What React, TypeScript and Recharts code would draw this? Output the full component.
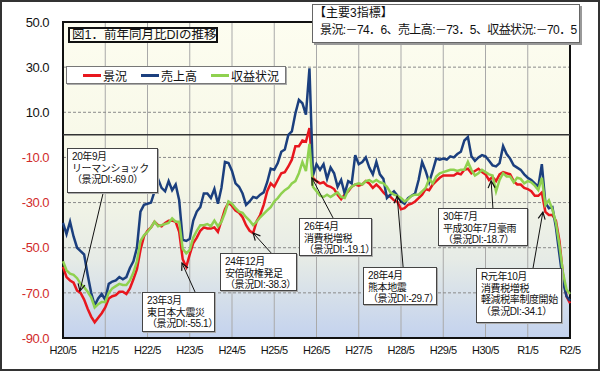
import React from 'react';
import { LineChart, Line, XAxis, YAxis, CartesianGrid, ReferenceLine, ReferenceArea } from 'recharts';

// ---- data ----
const xTickLabels = ['H20/5', 'H21/5', 'H22/5', 'H23/5', 'H24/5', 'H25/5', 'H26/5', 'H27/5', 'H28/5', 'H29/5', 'H30/5', 'R1/5', 'R2/5'];
const xTicks = xTickLabels.map((_, i) => i * 12);
const yTicks = [-90, -70, -50, -30, -10, 10, 30, 50];

// 景況 (monthly, H20/5 .. R2/5)
const keikyo = [
  -58.5, -63, -64.5, -65.5, -69.0, -70, -73, -77, -80.5, -83,
  -81, -79, -76.5, -72.5, -71.5, -71, -69.5, -69.5, -70.5, -68,
  -64, -59.5, -51, -45, -42.5, -41, -38.5, -40, -40.5, -39,
  -38, -38, -38.5, -43, -55.1, -58.5, -53, -48, -45.5, -42.5,
  -41, -41.5, -41.5, -41, -43, -38, -33, -30, -31.5, -33.5,
  -34.5, -36.5, -40, -42.5, -43.5, -38.3, -35.5, -31, -25, -21.5,
  -23, -20, -17, -16.5, -14, -11, -5, -5, -2.5, -3,
  3, -19.1, -20.5, -21.5, -21, -22.5, -23, -24, -26.5, -28.5,
  -26.5, -25, -23, -22, -22.5, -22, -20.5, -21.5, -23.5, -22,
  -23.5, -25.5, -27, -27.5, -29, -29.7, -33, -32.5, -31, -30.5,
  -29.5, -28, -26.5, -24, -24.5, -22, -20.5, -19, -18, -18,
  -18, -18, -17, -17.5, -15.5, -15, -17, -16, -15, -16.5,
  -17.5, -20, -18.7, -20.5, -17.5, -16.5, -17, -17.5, -20.5, -22,
  -22, -23.5, -24, -25, -27, -27, -25.5, -34.1, -35.5, -35.5,
  -38, -47, -62, -71.5, -74.6,
];

// 売上高
const uriage = [
  -39, -44, -38.5, -45, -50, -51.5, -53, -62, -70, -75.5,
  -72.5, -70.5, -73, -66, -65, -64.5, -63, -64, -63, -59,
  -56, -50, -34, -31, -30.5, -30, -25, -19.5, -23.5, -25,
  -20.5, -24.5, -22, -29, -46.5, -47, -46, -38, -34, -32,
  -26, -26, -28, -24, -30.5, -23.5, -12, -12.5, -16, -21.5,
  -23, -26, -31, -29.5, -27.5, -28, -26.5, -25.5, -21, -15,
  -15.5, -12.5, -7.5, -6.5, 0, 1.5, 9.5, 15.5, 14, 9,
  29.5, -18, -13, -15.5, -13, -19.5, -14.5, -17, -23, -20,
  -26, -20.5, -21.5, -9, -13, -12, -10, -14.5, -17.5, -12,
  -17.5, -19.5, -28, -26.5, -25, -27, -29.5, -30.5, -28, -27,
  -26, -20, -12, -16, -21, -16, -10.5, -11, -10.5, -11,
  -9.5, -10, -8.5, -7.5, -2.5, -1, -9.5, -11.5, -10, -9,
  -9.5, -11.5, -13.5, -14, -12.5, -5, -8.5, -10.5, -13.5, -14.5,
  -15.5, -17.5, -19, -20, -21.5, -23, -13, -30, -32.5, -32,
  -41, -53, -65, -71.5, -73.5,
];

// 収益状況
const shueki = [
  -56, -60, -61.5, -62, -63.5, -66, -67.5, -69.5, -72, -76.5,
  -75, -74, -74, -70, -68, -67, -66, -66.5, -66.5, -64.5,
  -61, -56, -47, -44.5, -43, -41, -38.5, -40.5, -40, -39.5,
  -39, -37, -38.5, -38.5, -50.5, -52.5, -51, -45.5, -42.5, -40,
  -40, -39.5, -40.5, -38, -40.5, -38.5, -34.5, -29.5, -30.5, -32.5,
  -34, -34.5, -36.5, -38, -40, -38.5, -36.5, -35, -33.5, -32,
  -29.5, -28, -26, -24.5, -23.5, -21.5, -20.5, -17, -12, -16,
  -4, -23, -25, -27, -27.5, -26.5, -27.5, -26.5, -25.5, -27.5,
  -28, -24.5, -23, -22, -21.5, -22, -20.5, -20, -21, -20,
  -21, -21.5, -23, -25.5, -26.5, -27, -28, -29.5, -28.5, -27,
  -26.5, -26.5, -25, -23.5, -19.5, -21.5, -18.5, -17, -16.5, -16,
  -15.5, -15.5, -16, -15.5, -15.5, -12, -15.5, -18, -17, -15.5,
  -16.5, -17.5, -18, -25, -20, -17, -18.5, -18.5, -21, -19,
  -19.5, -21.5, -20.5, -21, -22.5, -24.5, -19, -31, -29, -33,
  -39, -49, -61, -68.5, -70.5,
];

const seriesKeys = ['keikyo', 'uriage', 'shueki'];
const seriesNames = ['景況', '売上高', '収益状況'];
const seriesColors = ['#e8171e', '#1b3f7e', '#8fd14f'];

const titleText = '図1．前年同月比DIの推移';
const summaryTitle = '【主要3指標】';
const summaryText = '景況:－74．6、売上高:－73．5、収益状況:－70．5';

// callouts: text lines, arrow tail & tip in data units (month index, DI)
const calloutLines = [
  ['20年9月', 'リーマンショック', '（景況DI:-69.0）'],
  ['23年3月', '東日本大震災', '（景況DI:-55.1）'],
  ['24年12月', '安倍政権発足', '（景況DI:-38.3）'],
  ['26年4月', '消費税増税', '（景況DI:-19.1）'],
  ['28年4月', '熊本地震', '（景況DI:-29.7）'],
  ['30年7月', '平成30年7月豪雨', '（景況DI:-18.7）'],
  ['R元年10月', '消費税増税', '軽減税率制度開始', '（景況DI:-34.1）'],
];
const calloutTails = [[11.4, -25.8], [37.5, -69.6], [59.1, -52.3], [76.7, -36.8], [96.6, -58.6], [122.1, -32.4], [133.5, -59.0]];
const calloutTips = [[4.8, -69.2], [33.8, -56.8], [54.0, -43.5], [70.7, -19.1], [94.9, -27.1], [121.6, -20.4], [136.3, -34.2]];

// layout of callout boxes (pixels)
const calloutBoxes = [
  { left: 67, top: 148, width: 91, height: 45 },
  { left: 142, top: 292, width: 73, height: 40 },
  { left: 220, top: 253, width: 77, height: 38 },
  { left: 299, top: 218, width: 73, height: 38 },
  { left: 363, top: 267, width: 74, height: 38 },
  { left: 438, top: 208, width: 90, height: 38 },
  { left: 476, top: 268, width: 86, height: 55 },
];

const data = keikyo.map((v, i) => ({ m: i, keikyo: v, uriage: uriage[i], shueki: shueki[i] }));

// Latin font first so line boxes stay compact; CJK glyphs fall back to Noto Sans CJK JP
const JP = "'Liberation Sans', 'Noto Sans CJK JP', sans-serif";
const LAT = "'Liberation Sans', Arial, sans-serif";

const YTick = (props: any) => {
  const { x, y, payload } = props;
  const v = payload.value;
  return (
    <text x={x} y={y} dy="0.36em" textAnchor="end" fontSize={13} fontFamily={LAT} letterSpacing={-0.5} fill={v < 0 ? '#d12b2b' : '#111'}>
      {Number(v).toFixed(1)}
    </text>
  );
};

const XTick = (props: any) => {
  const { x, y, payload } = props;
  const idx = Math.round(payload.value / 12);
  return (
    <text x={x} y={y} dy="0.71em" textAnchor="middle" fontSize={11} fontFamily={LAT} letterSpacing={-0.5} fill="#111">
      {xTickLabels[idx]}
    </text>
  );
};

const ArrowShape = (props: any) => {
  const x1 = Number(props.x1), y1 = Number(props.y1), x2 = Number(props.x2), y2 = Number(props.y2);
  const ang = Math.atan2(y2 - y1, x2 - x1);
  const L = 7, W = 3.5;
  const bx = x2 - L * Math.cos(ang), by = y2 - L * Math.sin(ang);
  const p1x = bx + W * Math.sin(ang), p1y = by - W * Math.cos(ang);
  const p2x = bx - W * Math.sin(ang), p2y = by + W * Math.cos(ang);
  return (
    <g>
      <line x1={x1} y1={y1} x2={x2} y2={y2} stroke="#111" strokeWidth={1} />
      <polyline points={`${p1x},${p1y} ${x2},${y2} ${p2x},${p2y}`} fill="none" stroke="#111" strokeWidth={1.2} />
    </g>
  );
};

export default function App() {
  return (
    <div style={{ position: 'absolute', left: 0, top: 0, width: 600, height: 371, background: '#fff', overflow: 'hidden' }}>
      <LineChart width={600} height={371} data={data} margin={{ top: 22, right: 30, bottom: 8, left: 8 }}>
        <defs>
          <linearGradient id="plotBg" x1="0" y1="0" x2="0" y2="1">
            <stop offset="0%" stopColor="#fdfdf0" />
            <stop offset="50%" stopColor="#f6f7e6" />
            <stop offset="75%" stopColor="#e6ebe6" />
            <stop offset="100%" stopColor="#c3d2ee" />
          </linearGradient>
        </defs>
        <CartesianGrid horizontal={false} stroke="#a9a9a9" fill="url(#plotBg)" fillOpacity={1} />
        <CartesianGrid vertical={false} stroke="#8a8a8a" strokeDasharray="3 2" />
        <XAxis dataKey="m" type="number" domain={[0, 144]} ticks={xTicks} tick={<XTick />} axisLine={false} tickLine={false} height={25} interval={0} />
        <YAxis type="number" domain={[-90, 50]} ticks={yTicks} tick={<YTick />} axisLine={false} tickLine={false} width={55} tickMargin={8} interval={0} />
        <ReferenceLine y={0} stroke="#333" strokeWidth={1.5} />
        {seriesKeys.map((k, i) => (
          <Line key={k} type="linear" dataKey={k} name={seriesNames[i]} stroke={seriesColors[i]} strokeWidth={2.5} dot={false} isAnimationActive={false} />
        ))}
        {calloutTips.map((tip, i) => (
          <ReferenceLine
            key={'arr' + i}
            segment={[{ x: calloutTails[i][0], y: calloutTails[i][1] }, { x: tip[0], y: tip[1] }]}
            shape={ArrowShape}
            ifOverflow="visible"
          />
        ))}
        <ReferenceArea x1={0} x2={144} y1={-90} y2={50} fill="none" stroke="#111" strokeWidth={2} ifOverflow="visible" />
      </LineChart>

      {/* title */}
      <div style={{ position: 'absolute', left: 68, top: 27, width: 150, height: 16, boxSizing: 'border-box', border: '2px solid #111', background: '#fdfdf4', fontFamily: JP, fontSize: 12.5, lineHeight: '12px', paddingLeft: 2, whiteSpace: 'nowrap', color: '#111' }}>
        {titleText}
      </div>

      {/* legend */}
      <div style={{ position: 'absolute', left: 66, top: 66, width: 220, height: 18, boxSizing: 'border-box', border: '1px solid #777', boxShadow: '1px 1px 0 #aaa', background: '#fff', display: 'flex', alignItems: 'center', fontFamily: JP, fontSize: 12, color: '#111', whiteSpace: 'nowrap' }}>
        {seriesNames.map((n, i) => (
          <div key={n} style={{ display: 'flex', alignItems: 'center', marginLeft: i === 0 ? 16 : 14 }}>
            <div style={{ width: 18, height: 3, background: seriesColors[i], marginRight: 2 }} />
            <span>{n}</span>
          </div>
        ))}
      </div>

      {/* summary box */}
      <div style={{ position: 'absolute', left: 312, top: 4, width: 268, height: 39, boxSizing: 'border-box', border: '1px solid #666', boxShadow: '2px 2px 0 #999', background: '#fff', fontFamily: JP, fontSize: 12, color: '#111', whiteSpace: 'nowrap', lineHeight: '17px', paddingLeft: 1 }}>
        <div>{summaryTitle}</div>
        <div style={{ paddingLeft: 6, letterSpacing: -0.6 }}>{summaryText}</div>
      </div>

      {/* callouts */}
      {calloutLines.map((lines, i) => (
        <div key={'c' + i} style={{ position: 'absolute', ...calloutBoxes[i], boxSizing: 'border-box', border: '1px solid #444', boxShadow: '1px 1px 0 #aaa', background: '#fff', fontFamily: JP, fontSize: 10, lineHeight: '11.5px', color: '#111', whiteSpace: 'nowrap', padding: '2px 0 0 4px', letterSpacing: -0.4 }}>
          {lines.map((t, j) => <div key={j}>{t}</div>)}
        </div>
      ))}

      {/* outer frame */}
      <div style={{ position: 'absolute', left: 0, top: 0, width: 600, height: 371, boxSizing: 'border-box', border: '2px solid #333', pointerEvents: 'none' }} />
    </div>
  );
}
